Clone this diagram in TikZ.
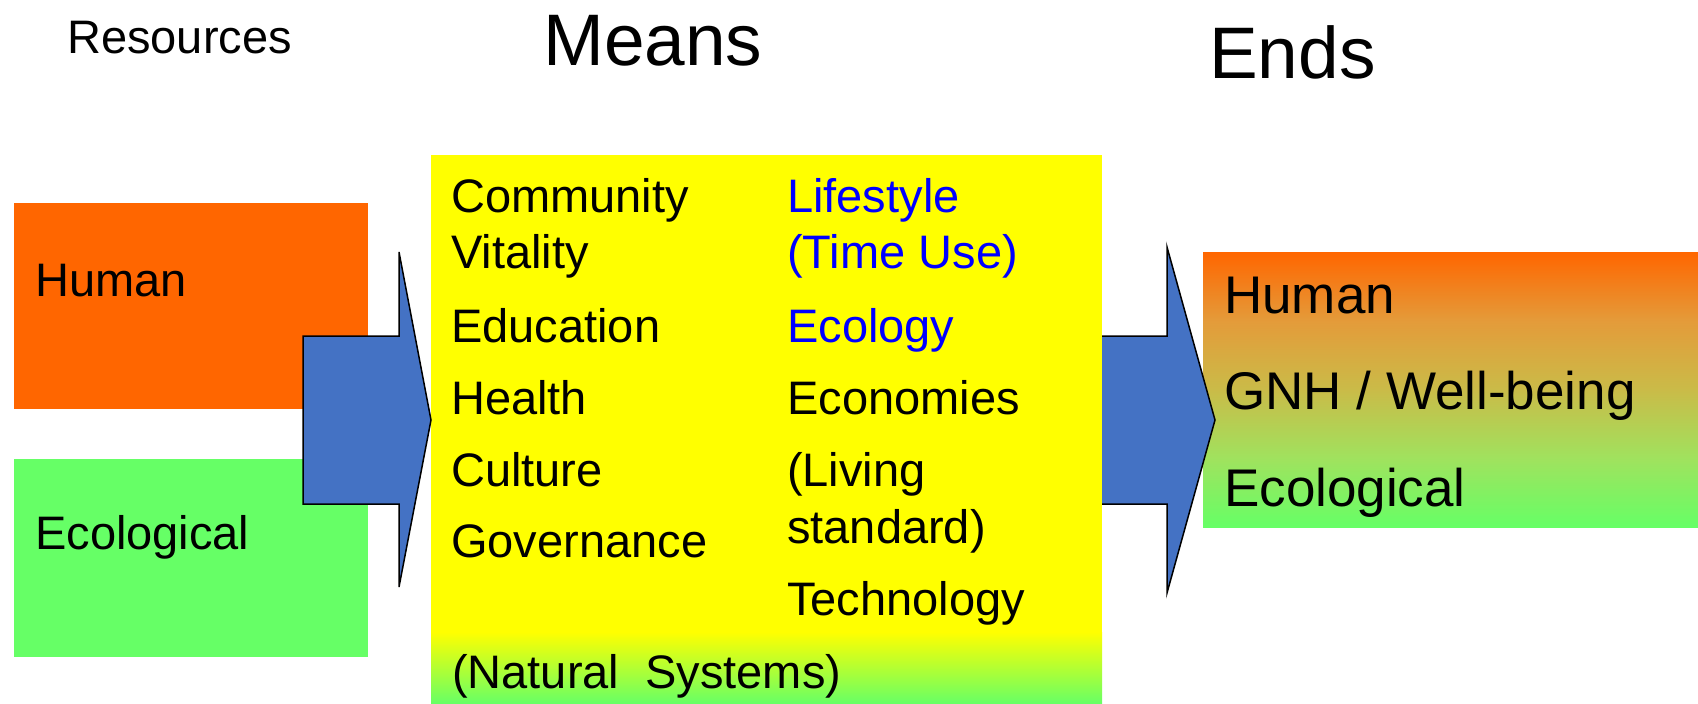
\documentclass[tikz,border=0pt]{standalone}
\usepackage{fontspec}
\setmainfont{Liberation Sans}
\usetikzlibrary{positioning,calc}
\definecolor{humanorange}{HTML}{FF6600}
\definecolor{ecogreen}{HTML}{66FF66}
\definecolor{meansyellow}{HTML}{FFFF00}
\definecolor{arrowblue}{HTML}{4472C4}
\definecolor{textblue}{HTML}{0000FF}
\pgfdeclareverticalshading{endsfade}{100bp}{%
    color(0bp)=(ecogreen); color(25bp)=(ecogreen);
    color(37.5bp)=(rgb,255:red,160;green,226;blue,94);
    color(50bp)=(rgb,255:red,202;green,187;blue,72);
    color(62.5bp)=(rgb,255:red,228;green,155;blue,58);
    color(75bp)=(humanorange); color(100bp)=(humanorange)}
\tikzset{
    box/.style={anchor=north west, inner sep=0pt, outer sep=0pt},
    bigarrow/.style={draw=black, line width=1.5pt, fill=arrowblue, line join=miter},
    word/.style={anchor=base west, inner sep=0pt, font=\fontsize{47}{56}\selectfont},
    endword/.style={anchor=base west, inner sep=0pt, font=\fontsize{53}{64}\selectfont},
    heading/.style={anchor=base west, inner sep=0pt, font=\fontsize{73}{88}\selectfont}
}

\begin{document}
\begin{tikzpicture}[x=1pt, y=-1pt]
    \useasboundingbox (0,0) rectangle (1698,704);

    % boxes
    \node[box, fill=humanorange, minimum width=354pt, minimum height=206pt] (reshuman) at (14,203) {};
    \node[box, fill=ecogreen, minimum width=354pt, minimum height=198pt] (reseco) at (14,459) {};
    \node[box, shade, shading=endsfade, minimum width=495pt, minimum height=275pt] (ends) at (1203,252) {};

    % arrow means -> ends
    \draw[bigarrow] (1095,336) -- (1167,336) -- (1167,247) -- (1215,420) -- (1167,593) -- (1167,504) -- (1095,504) -- cycle;

    \node[box, fill=meansyellow, minimum width=671pt, minimum height=477pt] (means) at (431,155) {};
    \node[box, top color=meansyellow, bottom color=ecogreen, minimum width=671pt, minimum height=72pt] (natural) at (431,632) {};

    % arrow resources -> means
    \draw[bigarrow] (303,336) -- (399,336) -- (399,252) -- (431,420) -- (399,587) -- (399,504) -- (303,504) -- cycle;

    % headings
    \node[word] (resources) at (67,53) {Resources};
    \node[heading] (meanstitle) at (543,65) {Means};
    \node[heading] (endstitle) at (1209,78) {Ends};

    % resources
    \node[word] (reshumantxt) at (35,296) {Human};
    \node[word] (resecotxt) at (35,549) {Ecological};

    % means, left column
    \node[word] (community) at (451,212) {Community};
    \node[word] (vitality) at (451,268) {Vitality};
    \node[word] (education) at (451,342) {Education};
    \node[word] (health) at (451,414) {Health};
    \node[word] (culture) at (451,486) {Culture};
    \node[word] (governance) at (451,557) {Governance};
    \node[word] (naturaltxt) at (452,688) {(Natural\ \ Systems)};

    % means, right column
    \node[word, textblue] (lifestyle) at (787,212) {Lifestyle};
    \node[word, textblue] (timeuse) at (787,268) {(Time Use)};
    \node[word, textblue] (ecology) at (787,342) {Ecology};
    \node[word] (economies) at (787,414) {Economies};
    \node[word] (living) at (787,486) {(Living};
    \node[word] (standard) at (787,543) {standard)};
    \node[word] (technology) at (787,615) {Technology};

    % ends
    \node[endword] (endshuman) at (1224,313) {Human};
    \node[endword] (gnh) at (1224,409) {GNH / Well-being};
    \node[endword] (endseco) at (1224,506) {Ecological};
\end{tikzpicture}
\end{document}
